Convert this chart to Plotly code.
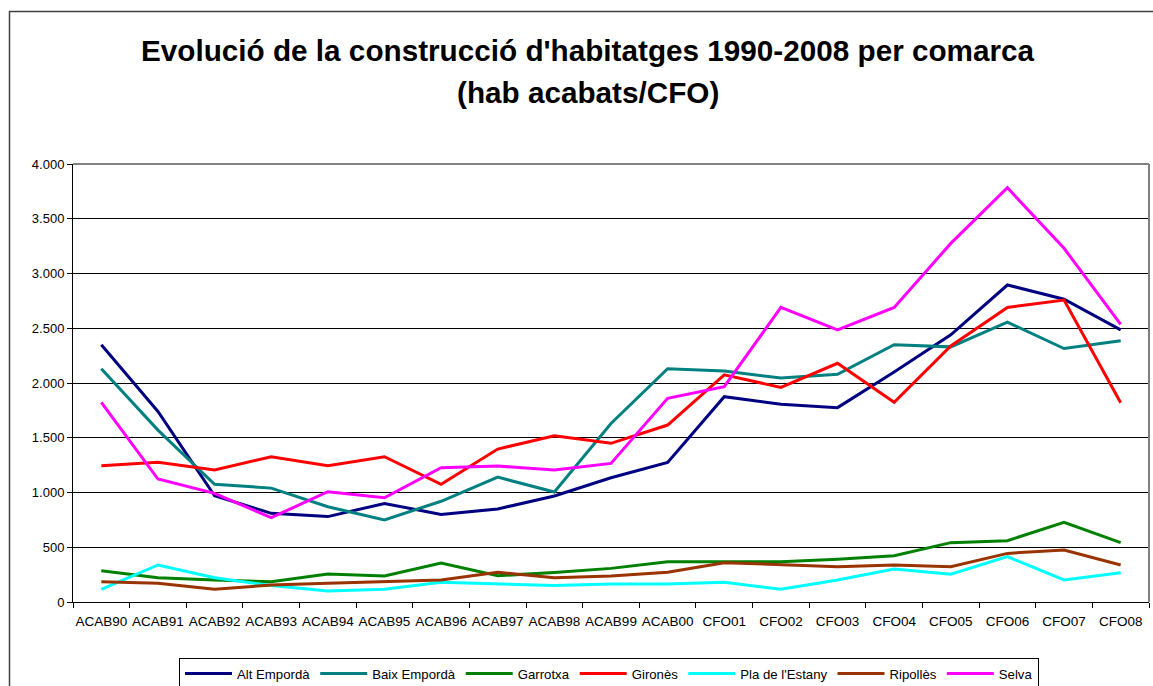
import plotly.graph_objects as go

categories = ["ACAB90", "ACAB91", "ACAB92", "ACAB93", "ACAB94", "ACAB95", "ACAB96",
              "ACAB97", "ACAB98", "ACAB99", "ACAB00", "CFO01", "CFO02", "CFO03",
              "CFO04", "CFO05", "CFO06", "CFO07", "CFO08"]

alt_emporda = [2350, 1740, 970, 810, 780, 900, 800, 850, 968, 1135, 1275, 1875,
               1805, 1775, 2100, 2440, 2895, 2765, 2485]
baix_emporda = [2130, 1570, 1075, 1040, 870, 750, 920, 1140, 1005, 1630, 2130, 2110,
                2045, 2080, 2350, 2330, 2555, 2315, 2385]
garrotxa = [285, 222, 200, 186, 255, 237, 355, 240, 270, 307, 368, 368,
            368, 390, 423, 542, 560, 728, 542]
girones = [1245, 1276, 1205, 1327, 1245, 1327, 1075, 1397, 1519, 1449, 1616, 2075,
           1960, 2180, 1824, 2338, 2690, 2758, 1820]
pla_estany = [116, 338, 222, 150, 100, 116, 180, 164, 150, 164, 164, 180,
              116, 201, 301, 253, 414, 201, 268]
ripolles = [186, 171, 116, 155, 171, 186, 201, 271, 222, 237, 271, 359,
            344, 323, 338, 323, 444, 475, 338]
selva = [1824, 1123, 992, 770, 1007, 952, 1227, 1242, 1205, 1266, 1860, 1966,
         2690, 2484, 2690, 3275, 3783, 3230, 2536]

series = [
    ("Alt Empordà", alt_emporda, "#000080"),
    ("Baix Empordà", baix_emporda, "#008080"),
    ("Garrotxa", garrotxa, "#008000"),
    ("Gironès", girones, "#FF0000"),
    ("Pla de l'Estany", pla_estany, "#00FFFF"),
    ("Ripollès", ripolles, "#993300"),
    ("Selva", selva, "#FF00FF"),
]

FONT = "Liberation Sans, Arial, sans-serif"

fig = go.Figure()
for name, vals, color in series:
    fig.add_trace(go.Scatter(x=categories, y=vals, name=name, mode="lines",
                             line=dict(color=color, width=3)))

W, H = 1153, 686
L, R, T, B = 73, 4, 164, 84
pw = W - L - R
ph = H - T - B


def px_x(p):
    return (p - L) / pw


def px_y(p):
    return (H - B - p) / ph


fig.update_layout(
    width=W, height=H,
    margin=dict(l=L, r=R, t=T, b=B, autoexpand=False),
    paper_bgcolor="white", plot_bgcolor="white",
    separators=",.",
    font=dict(family=FONT, color="black"),
    showlegend=True,
    legend=dict(orientation="h", x=px_x(609), xanchor="center", y=px_y(657.5), yanchor="top",
                bordercolor="black", borderwidth=1, bgcolor="white",
                font=dict(size=13.2, family=FONT), itemwidth=47, tracegroupgap=0),
    xaxis=dict(type="category", range=[-0.5, len(categories) - 0.5], automargin=False,
               showline=True, linecolor="black", linewidth=1, tickangle=0,
               ticks="outside", tickson="boundaries", ticklen=5, tickcolor="black",
               ticklabelstandoff=7,
               showgrid=False, tickfont=dict(size=13.5, family=FONT), zeroline=False),
    yaxis=dict(range=[0, 4000], dtick=500, tickformat=",d", showline=True, automargin=False,
               linecolor="black", linewidth=1, ticks="outside", ticklen=5,
               tickcolor="black", showgrid=True, gridcolor="black", gridwidth=1,
               zeroline=False, tickfont=dict(size=13, family=FONT)),
    annotations=[
        dict(text="<b>Evolució de la construcció d'habitatges 1990-2008 per comarca</b>",
             xref="paper", yref="paper", x=px_x(588), y=px_y(50), xanchor="center",
             yanchor="middle", showarrow=False, font=dict(size=29.7, family=FONT)),
        dict(text="<b>(hab acabats/CFO)</b>",
             xref="paper", yref="paper", x=px_x(588), y=px_y(92), xanchor="center",
             yanchor="middle", showarrow=False, font=dict(size=29.7, family=FONT)),
    ],
    shapes=[
        dict(type="rect", xref="paper", yref="paper", x0=px_x(9.5), y0=px_y(11.5),
             x1=px_x(1170), y1=px_y(720), line=dict(color="#404040", width=1.5),
             layer="below"),
        dict(type="line", xref="paper", yref="paper", x0=0, x1=1, y0=1, y1=1,
             line=dict(color="#808080", width=2)),
        dict(type="line", xref="paper", yref="paper", x0=1, x1=1, y0=0, y1=1,
             line=dict(color="#808080", width=2)),
    ],
)

fig.write_html("out.html", config={"displayModeBar": False},
               post_script="document.body.style.margin='0';document.body.style.overflow='hidden';")
